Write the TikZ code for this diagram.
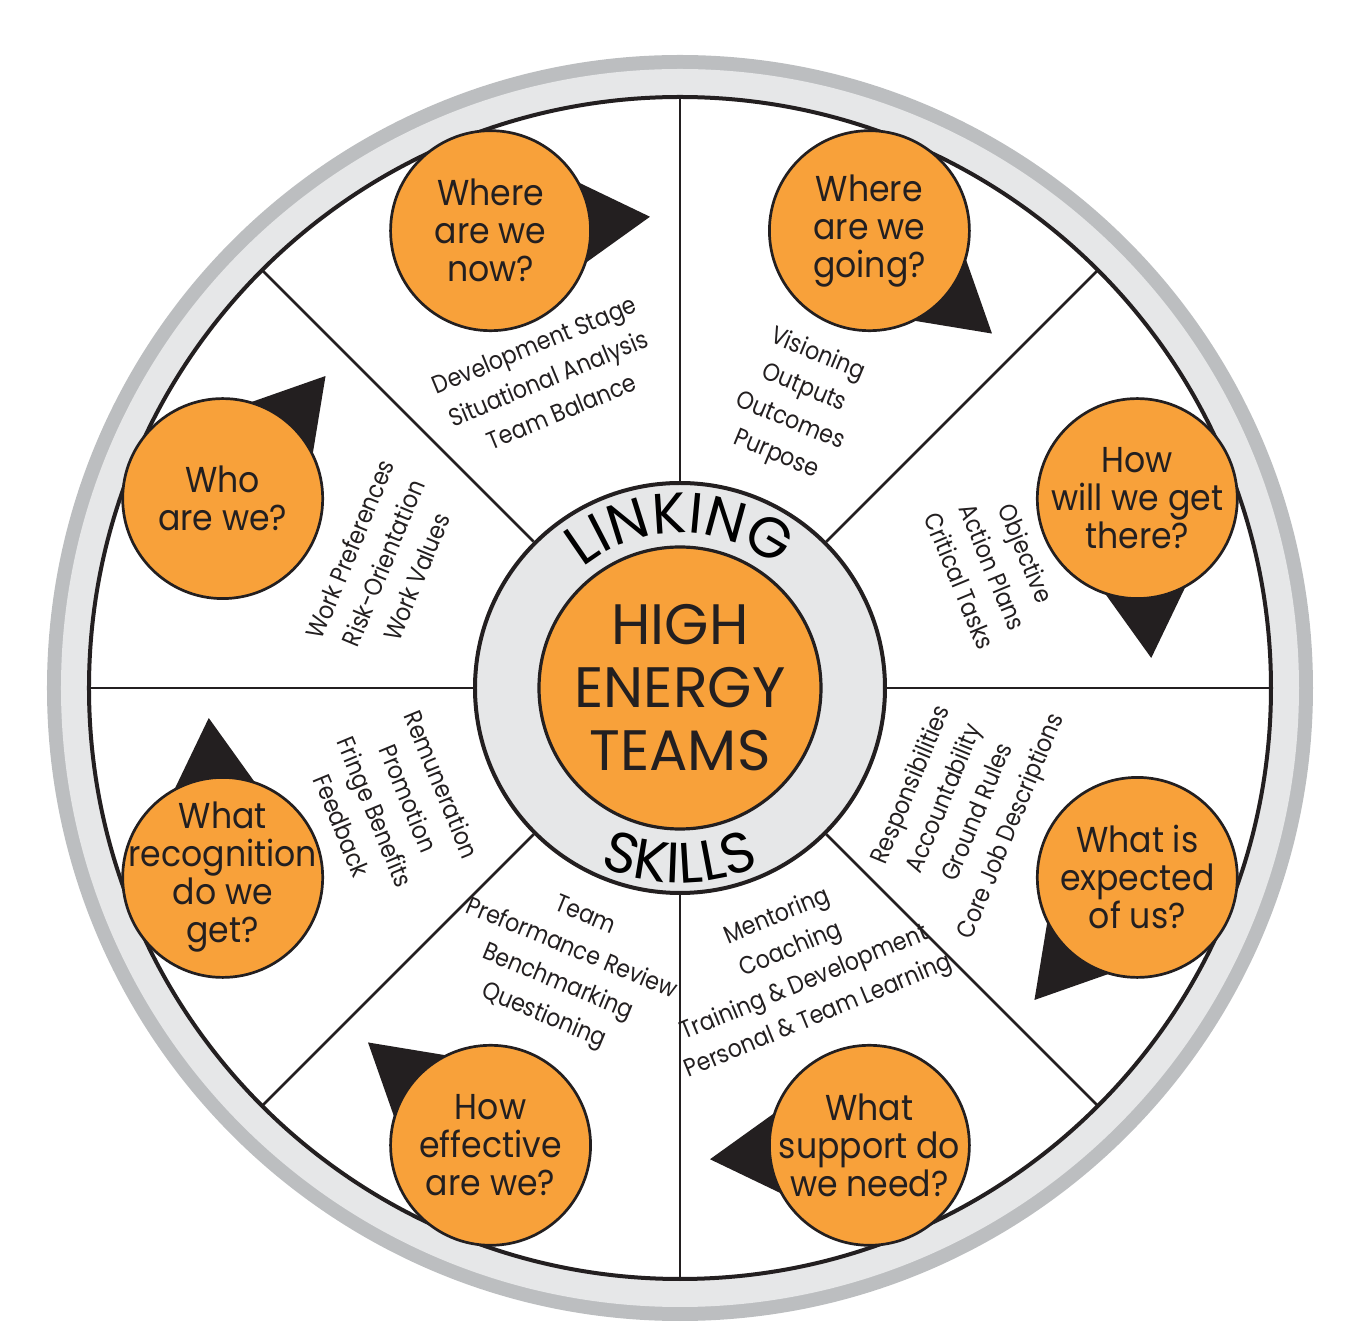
\documentclass[tikz,border=0pt]{standalone}
\usepackage{fontspec}
\setmainfont{Poppins}
\newfontfamily\narrowfont{Poppins}[FakeStretch=0.92]
\newfontfamily\listfont{Poppins}[FakeStretch=0.88]
\usepackage{tikz}
\usetikzlibrary{calc,decorations.text}
\definecolor{wheelor}{RGB}{248,161,58}
\definecolor{rimlight}{RGB}{230,231,232}
\definecolor{rimdark}{RGB}{188,190,192}
\definecolor{inkblk}{RGB}{35,31,32}
\newcommand{\hubfont}{\fontsize{28.5}{31.5}\selectfont}
\tikzset{
  qbub/.style={circle, fill=wheelor, draw=inkblk, line width=1.35pt, minimum size=100pt, inner sep=0pt},
  qtxt/.style={align=center, inner sep=0pt, text=inkblk, font=\narrowfont\fontsize{18}{19}\selectfont},
  qpin/.style={fill=inkblk},
  spk/.style={inkblk, line width=1.3pt},
  lst/.style={align=center, inner sep=0pt, text=inkblk, font=\listfont\fontsize{12.5}{18}\selectfont},
  ringc/.style={circle, fill=rimlight, draw=inkblk, line width=2pt, minimum size=205pt, inner sep=0pt},
  hubc/.style={circle, fill=wheelor, draw=inkblk, line width=1.6pt, minimum size=141pt,
    inner sep=0pt, align=center, text=inkblk, font=\hubfont},
  arctxt/.style={decorate, decoration={text along path, text align=center, text={|\hubfont|#1}}},
}

\begin{document}
\begin{tikzpicture}[x=0.5pt, y=0.5pt]
  \useasboundingbox (-680,-655) rectangle (676,688);
  % rim of the wheel
  \fill[rimdark] (0,0) circle[radius=633];
  \fill[rimlight] (0,0) circle[radius=619];
  \fill[white] (0,0) circle[radius=591];
  \node[ringc] (ring) at (0,0) {};
  \node[hubc] (hub) at (0,0) {HIGH\\ENERGY\\TEAMS};
  \foreach \a in {0,45,...,315}
    \draw[spk] (ring.\a) -- (\a:591);
  \draw[inkblk, line width=2pt] (0,0) circle[radius=591];
  \path[arctxt=LINKING] (160:155) arc[start angle=160, end angle=20, radius=155];
  \path[arctxt=SKILLS] (-160:195) arc[start angle=-160, end angle=-20, radius=195];
  % lists in the sectors
  \node[lst, rotate=22.5] (l-now) at (-132,310) {Development Stage\\Situational Analysis\\Team Balance};
  \node[lst, rotate=-22.5] (l-going) at (117,283) {Visioning\\Outputs\\Outcomes\\Purpose};
  \node[lst, rotate=-67.5] (l-there) at (313,121) {Objective\\Action Plans\\Critical Tasks};
  \node[lst, rotate=67.5] (l-expected) at (282,-118) {Responsibilities\\Accountability\\Ground Rules\\Core Job Descriptions};
  \node[lst, rotate=22.5] (l-support) at (118,-279) {Mentoring\\Coaching\\Training \& Development\\Personal \& Team Learning};
  \node[lst, rotate=-22.5] (l-effective) at (-116,-279) {Team\\Preformance Review\\Benchmarking\\Questioning};
  \node[lst, rotate=-67.5] (l-recognition) at (-288,-117) {Remuneration\\Promotion\\Fringe Benefits\\Feedback};
  \node[lst, rotate=67.5] (l-who) at (-297,125) {Work Preferences\\Risk-Orientation\\Work Values};
  % question bubbles with their pins
  \foreach \nm/\ang/\txt in {now/112.5/{Where\\are we\\now?}, going/67.5/{Where\\are we\\going?},
      there/22.5/{How\\will we get\\there?}, expected/-22.5/{What is\\expected\\of us?},
      support/-67.5/{What\\support do\\we need?}, effective/-112.5/{How\\effective\\are we?},
      recognition/-157.5/{What\\recognition\\do we\\get?}, who/157.5/{Who\\are we?}} {
    \coordinate (c-\nm) at (\ang:495);
    \fill[qpin] ($(c-\nm)+(\ang-107.5:160)$) -- ($(c-\nm)+(\ang-83.5:100)$)
      -- ($(c-\nm)+(\ang-131.5:100)$) -- cycle;
    \node[qbub] (q-\nm) at (c-\nm) {};
    \node[qtxt] (t-\nm) at (q-\nm) {\txt};
  }
\end{tikzpicture}
\end{document}
